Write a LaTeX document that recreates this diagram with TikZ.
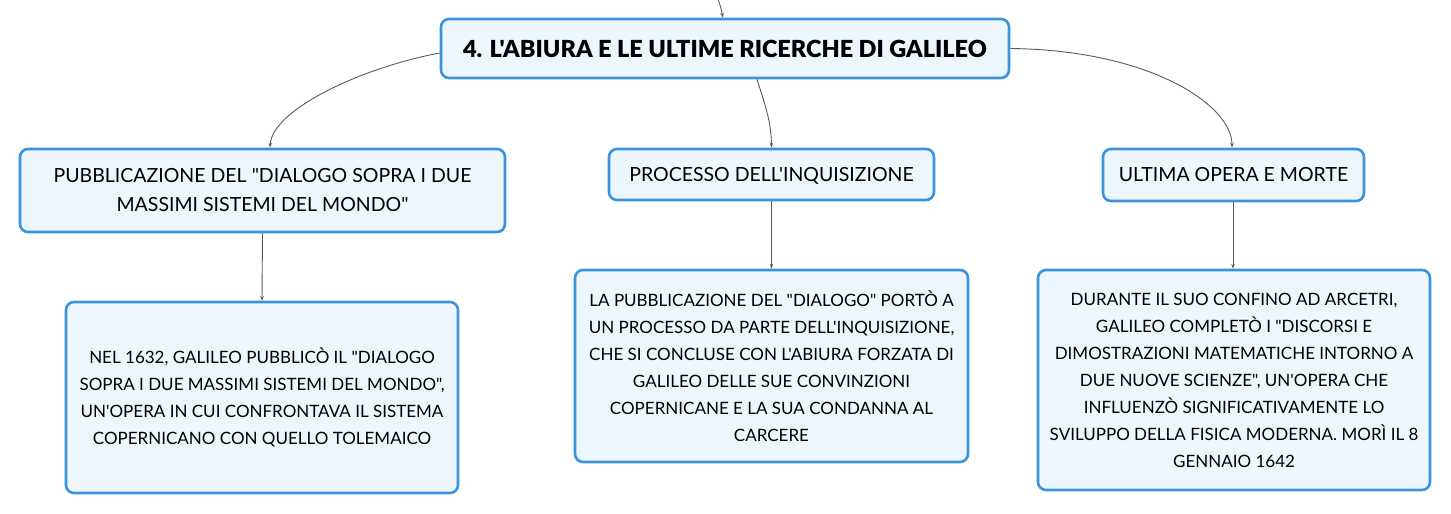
\documentclass[tikz,border=0pt]{standalone}
\usepackage{fontspec}
\setmainfont{Lato}[Ligatures=TeXOff]
\newfontfamily\titlefont{Lato Black}[Ligatures=TeXOff]
\usetikzlibrary{arrows.meta}
\definecolor{boxfill}{HTML}{EEF6FD}
\definecolor{boxline}{HTML}{3A93DD}
\definecolor{conn}{HTML}{5A5A5A}
\tikzset{
  box/.style={draw=boxline, line width=2.6pt, fill=boxfill, rounded corners=8pt, align=center, inner sep=0pt, text=black},
  conn/.style={draw=conn, line width=0.9pt, -{Stealth[length=5pt,width=3.5pt]}},
  childtxt/.style={font=\fontsize{19.5}{29}\selectfont},
  leaftxt/.style={font=\fontsize{17}{27}\selectfont},
}
\begin{document}
\begin{tikzpicture}[x=1pt,y=-1pt]
\useasboundingbox (0,0) rectangle (1451,514);
% top
\node[box, minimum width=568pt, minimum height=59pt, font=\fontsize{23.5}{28}\titlefont] (top) at (725,48.5) {4. L'ABIURA E LE ULTIME RICERCHE DI GALILEO};
% children
\node[box, childtxt, minimum width=485pt, minimum height=83pt] (c1) at (262.5,190.5) {PUBBLICAZIONE DEL "DIALOGO SOPRA I DUE\\MASSIMI SISTEMI DEL MONDO"};
\node[box, childtxt, minimum width=325pt, minimum height=51pt, text depth=1pt] (c2) at (771.5,174.5) {PROCESSO DELL'INQUISIZIONE};
\node[box, childtxt, minimum width=261pt, minimum height=52pt, text depth=1pt] (c3) at (1233.5,175) {ULTIMA OPERA E MORTE};
% leaves
\node[box, leaftxt, minimum width=392pt, minimum height=191pt] (l1) at (262,397.5) {NEL 1632, GALILEO PUBBLICÒ IL "DIALOGO\\SOPRA I DUE MASSIMI SISTEMI DEL MONDO",\\UN'OPERA IN CUI CONFRONTAVA IL SISTEMA\\COPERNICANO CON QUELLO TOLEMAICO};
\node[box, leaftxt, minimum width=393pt, minimum height=192pt] (l2) at (771.5,366) {LA PUBBLICAZIONE DEL "DIALOGO" PORTÒ A\\UN PROCESSO DA PARTE DELL'INQUISIZIONE,\\CHE SI CONCLUSE CON L'ABIURA FORZATA DI\\GALILEO DELLE SUE CONVINZIONI\\COPERNICANE E LA SUA CONDANNA AL\\CARCERE};
\node[box, leaftxt, minimum width=392pt, minimum height=220pt] (l3) at (1234,380) {DURANTE IL SUO CONFINO AD ARCETRI,\\GALILEO COMPLETÒ I "DISCORSI E\\DIMOSTRAZIONI MATEMATICHE INTORNO A\\DUE NUOVE SCIENZE", UN'OPERA CHE\\INFLUENZÒ SIGNIFICATIVAMENTE LO\\SVILUPPO DELLA FISICA MODERNA. MORÌ IL 8\\GENNAIO 1642};
% connectors
\coordinate (in) at (718,-1);
\draw[conn] (in) .. controls (721,8) .. (top.north -| 723,0);
\draw[conn] (top.west |- 0,53) .. controls (360,68) and (272,110) .. (c1.north -| 270,0);
\draw[conn] (top.south -| 757,0) .. controls (765,105) and (771,120) .. (c2.north);
\draw[conn] (top.east) .. controls (1150,50) and (1232,105) .. (c3.north -| 1232,0);
\draw[conn] (c1.south) -- (l1.north);
\draw[conn] (c2.south) -- (l2.north);
\draw[conn] (c3.south -| 1233,0) -- (l3.north -| 1233,0);
\end{tikzpicture}
\end{document}
